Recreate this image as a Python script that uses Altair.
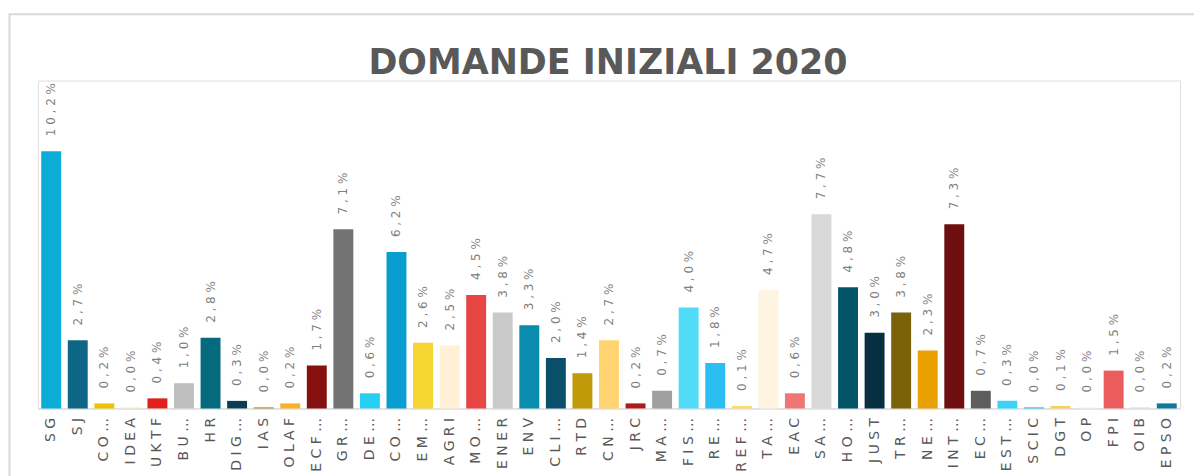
import json
import altair as alt
import pandas as pd

labels = ["SG", "SJ", "CO…", "IDEA", "UKTF", "BU…", "HR", "DIG…", "IAS", "OLAF",
          "ECF…", "GR…", "DE…", "CO…", "EM…", "AGRI", "MO…", "ENER", "ENV", "CLI…",
          "RTD", "CN…", "JRC", "MA…", "FIS…", "RE…", "REF…", "TA…", "EAC", "SA…",
          "HO…", "JUST", "TR…", "NE…", "INT…", "EC…", "EST…", "SCIC", "DGT", "OP",
          "FPI", "OIB", "EPSO"]

values = [10.2, 2.7, 0.2, 0.04, 0.4, 1.0, 2.8, 0.3, 0.04, 0.2,
          1.7, 7.1, 0.6, 6.2, 2.6, 2.5, 4.5, 3.8, 3.3, 2.0,
          1.4, 2.7, 0.2, 0.7, 4.0, 1.8, 0.1, 4.7, 0.6, 7.7,
          4.8, 3.0, 3.8, 2.3, 7.3, 0.7, 0.3, 0.04, 0.1, 0.04,
          1.5, 0.04, 0.2]

colors = ["#0BADD6", "#0E6686", "#F2C200", "#FCEBC4", "#E0201B", "#BFBFBF", "#066A7E", "#0A3D52", "#8C7A1A", "#F7B324",
          "#861111", "#737373", "#28CFF5", "#0A9DD0", "#F6D431", "#FFF0D6", "#E84545", "#C9C9C9", "#0A8CAC", "#0B506A",
          "#C09A08", "#FFD470", "#B2191A", "#A0A0A0", "#52DBF7", "#2ABFF0", "#FADC6E", "#FFF4E2", "#F07575", "#D9D9D9",
          "#045468", "#062F42", "#7A6208", "#E8A100", "#6E0E0E", "#5E5E5E", "#3AD5F5", "#1FAEEB", "#F8D15A", "#FFEFDC",
          "#EB5C5C", "#DADADA", "#0E7B96"]

title_text = "DOMANDE INIZIALI 2020"

idx = list(range(len(labels)))
df = pd.DataFrame({"i": idx, "v": values})

W = 1146
H = 329

x_enc = alt.X("i:O", sort=idx,
              scale=alt.Scale(paddingInner=0.25, paddingOuter=0.125),
              axis=alt.Axis(title=None, labelAngle=270, labelExpr=f"join(split({json.dumps(labels)}[datum.value], ''), ' ')",
                            labelFont="DejaVu Sans", labelFontSize=14, labelColor="#595959",
                            labelPadding=9, ticks=False, domainColor="#D9D9D9", domainWidth=1,
                            labelLimit=0, labelOverlap=False))
y_enc = alt.Y("v:Q", scale=alt.Scale(domain=[0, 13]), axis=None)

base = alt.Chart(df)

bars = base.mark_bar().encode(
    x=x_enc,
    y=y_enc,
    color=alt.Color("i:N", scale=alt.Scale(domain=idx, range=colors), legend=None),
)

text = base.transform_calculate(
    lbl="join(split(replace(format(datum.v, '.1f'), '.', ',') + '%', ''), ' ')"
).mark_text(angle=270, align="left", baseline="middle", dx=15,
            font="DejaVu Sans", fontSize=12, color="#7F7F7F").encode(
    x=x_enc, y=y_enc, text="lbl:N"
)

frame = alt.Chart(pd.DataFrame({"k": [0]})).mark_rect(
    fill="transparent", stroke="#D9D9D9", strokeWidth=2
).encode(
    x=alt.value(-28.5), x2=alt.value(W + 60), y=alt.value(-66.5), y2=alt.value(H + 120)
)

title = alt.Chart(pd.DataFrame({"t": [title_text]})).mark_text(
    font="DejaVu Sans", fontSize=35, fontWeight="bold", color="#595959",
    align="center", baseline="alphabetic"
).encode(x=alt.value(W / 2 - 1), y=alt.value(-7), text="t:N")

chart = alt.layer(frame, bars, text, title).properties(
    width=W, height=H,
    autosize=alt.AutoSizeParams(type="none"),
    padding={"left": 30, "top": 72, "right": 14, "bottom": 67},
).configure_view(stroke=None).configure(background="white")

chart.save("out.html", embed_options={"renderer": "svg", "actions": False})
